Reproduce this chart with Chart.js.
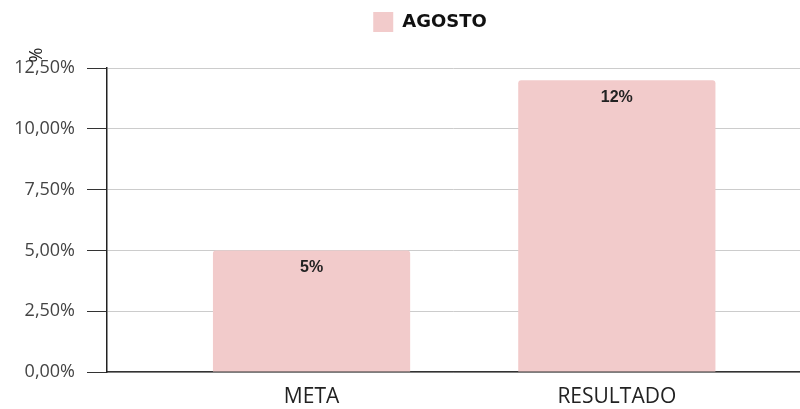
<!DOCTYPE html>
<html>
<head>
<meta charset="utf-8">
<script src="https://cdn.jsdelivr.net/npm/chart.js@4"></script>
<style>
  html, body { margin: 0; padding: 0; background: #fff; }
  #wrap { width: 800px; height: 409px; }
</style>
</head>
<body>
<div id="wrap"><canvas id="chart"></canvas></div>
<script>
const categories = ['META', 'RESULTADO'];
const agosto = [5, 12];
const yTicks = [0, 2.5, 5, 7.5, 10, 12.5];

const barColor = 'rgb(242,203,203)';

const fmt = v => v.toFixed(2).replace('.', ',') + '%';

// extra gap under the legend, and legend nudged right
const legendTweak = {
  id: 'legendTweak',
  beforeInit(chart) {
    const fit = chart.legend.fit;
    chart.legend.fit = function () {
      fit.bind(chart.legend)();
      this.height += 26;
    };
  },
  afterLayout(chart) {
    chart.legend.left += 60;
  }
};

// value labels inside bar tops + rotated axis title
const barLabels = {
  id: 'barLabels',
  afterDatasetsDraw(chart) {
    const ctx = chart.ctx;
    const meta = chart.getDatasetMeta(0);
    ctx.save();
    ctx.font = 'bold 16px "Liberation Sans", Arial, sans-serif';
    ctx.fillStyle = '#222';
    ctx.textAlign = 'center';
    ctx.textBaseline = 'middle';
    meta.data.forEach((bar, i) => {
      ctx.fillText(agosto[i] + '%', bar.x, bar.y + 17);
    });
    // "%" axis title, rotated, at top of the y axis
    ctx.translate(chart.chartArea.left - 70, chart.chartArea.top - 13);
    ctx.rotate(-Math.PI / 2);
    ctx.font = '18px "Open Sans", sans-serif';
    ctx.fillStyle = '#222';
    ctx.fillText('%', 0, 0);
    ctx.restore();
  }
};

new Chart(document.getElementById('chart'), {
  type: 'bar',
  data: {
    datasets: [{
      label: 'AGOSTO',
      data: agosto.map((v, i) => ({ x: i, y: v })),
      backgroundColor: barColor,
      borderRadius: 3,
      borderSkipped: 'bottom',
      barPercentage: 0.646,
      categoryPercentage: 1
    }]
  },
  options: {
    responsive: true,
    maintainAspectRatio: false,
    animation: false,
    layout: { padding: { left: 0, top: 2, right: 0, bottom: 0 } },
    plugins: {
      legend: {
        position: 'top',
        labels: {
          boxWidth: 20,
          boxHeight: 20,
          padding: 10,
          color: '#111',
          font: { family: '"DejaVu Sans", sans-serif', size: 18, weight: 'bold' }
        }
      },
      tooltip: { enabled: false }
    },
    scales: {
      x: {
        type: 'linear',
        offset: false,
        min: -0.67,
        max: 1.6,
        afterBuildTicks: scale => { scale.ticks = categories.map((c, i) => ({ value: i })); },
        afterFit: scale => { scale.height = 37; },
        ticks: {
          callback: v => categories[v],
          padding: 4,
          color: '#222',
          font: { family: '"Open Sans", sans-serif', size: 21 }
        },
        grid: { display: false },
        border: { color: '#333', width: 1.5 }
      },
      y: {
        min: 0,
        max: 12.5,
        afterBuildTicks: scale => { scale.ticks = yTicks.map(v => ({ value: v })); },
        afterFit: scale => { scale.width = 107; },
        ticks: {
          callback: v => fmt(v),
          padding: 12,
          color: '#444',
          font: { family: '"Open Sans", sans-serif', size: 18 }
        },
        grid: { color: '#ccc', tickColor: '#333', tickLength: 20 },
        border: { color: '#222', width: 1.5 }
      }
    }
  },
  plugins: [legendTweak, barLabels]
});
</script>
</body>
</html>
